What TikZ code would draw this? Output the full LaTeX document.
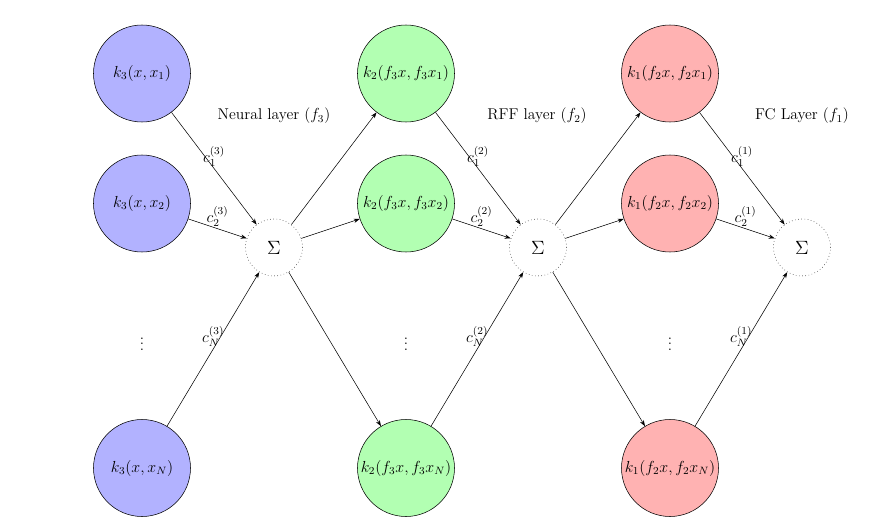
\documentclass[tikz,border=0pt]{standalone}
\usetikzlibrary{arrows.meta}
\begin{document}
\begin{tikzpicture}[x=0.75pt, y=-0.75pt,
  font=\fontsize{11.7}{14}\selectfont,
  kern/.style={circle, draw=black, thin, minimum size=72.75pt, inner sep=0pt},
  kblue/.style={kern, fill=blue!30},
  kgreen/.style={kern, fill=green!30},
  kred/.style={kern, fill=red!30},
  sumnode/.style={circle, draw=black, dotted, minimum size=42.75pt, inner sep=0pt, font=\fontsize{15.5}{18}\selectfont},
  edge/.style={-{Stealth[length=4.5pt, width=3.2pt]}, thin},
  wlabel/.style={above, inner sep=1.5pt}]
\useasboundingbox (0,0) rectangle (879,525);

% first layer kernels
\node[kblue] (b1) at (142,73.5) {$k_3(x,x_1)$};
\node[kblue] (b2) at (142,203.5) {$k_3(x,x_2)$};
\node (bd) at (142,340) {$\vdots$};
\node[kblue] (bN) at (142,468) {$k_3(x,x_N)$};

% second layer kernels
\node[kgreen] (g1) at (406,73.5) {$k_2(f_3x,f_3x_1)$};
\node[kgreen] (g2) at (406,203.5) {$k_2(f_3x,f_3x_2)$};
\node (gd) at (406,340) {$\vdots$};
\node[kgreen] (gN) at (406,468) {$k_2(f_3x,f_3x_N)$};

% third layer kernels
\node[kred] (r1) at (670,73.5) {$k_1(f_2x,f_2x_1)$};
\node[kred] (r2) at (670,203.5) {$k_1(f_2x,f_2x_2)$};
\node (rd) at (670,340) {$\vdots$};
\node[kred] (rN) at (670,468) {$k_1(f_2x,f_2x_N)$};

% summation nodes
\node[sumnode] (s3) at (274,247.5) {$\Sigma$};
\node[sumnode] (s2) at (538,247.5) {$\Sigma$};
\node[sumnode] (s1) at (802,247.5) {$\Sigma$};

% layer titles
\node (t3) at (274,116) {Neural layer ($f_3$)};
\node (t2) at (537,116) {RFF layer ($f_2$)};
\node (t1) at (802,116) {FC Layer ($f_1$)};

% weighted sums
\draw[edge] (b1) -- node[wlabel] {$c_1^{(3)}$} (s3);
\draw[edge] (b2) -- node[wlabel] {$c_2^{(3)}$} (s3);
\draw[edge] (bN) -- node[wlabel] {$c_N^{(3)}$} (s3);
\draw[edge] (g1) -- node[wlabel] {$c_1^{(2)}$} (s2);
\draw[edge] (g2) -- node[wlabel] {$c_2^{(2)}$} (s2);
\draw[edge] (gN) -- node[wlabel] {$c_N^{(2)}$} (s2);
\draw[edge] (r1) -- node[wlabel] {$c_1^{(1)}$} (s1);
\draw[edge] (r2) -- node[wlabel] {$c_2^{(1)}$} (s1);
\draw[edge] (rN) -- node[wlabel] {$c_N^{(1)}$} (s1);

% feeding sums into the next layer
\draw[edge] (s3) -- (g1);
\draw[edge] (s3) -- (g2);
\draw[edge] (s3) -- (gN);
\draw[edge] (s2) -- (r1);
\draw[edge] (s2) -- (r2);
\draw[edge] (s2) -- (rN);
\end{tikzpicture}
\end{document}
